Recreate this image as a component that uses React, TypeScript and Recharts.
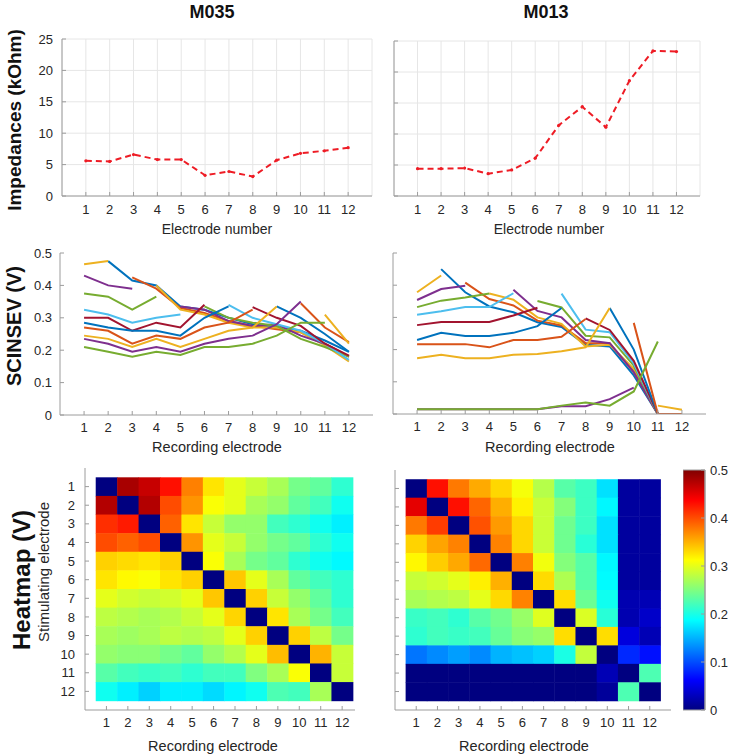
import React from 'react';
import {
  LineChart,
  Line,
  ScatterChart,
  Scatter,
  XAxis,
  YAxis,
  CartesianGrid,
  ReferenceArea,
} from 'recharts';

// electrode indices and tick values
const ELECTRODES = [1, 2, 3, 4, 5, 6, 7, 8, 9, 10, 11, 12];
const IMP_TICKS = [0, 5, 10, 15, 20, 25];
const V_TICKS = [0, 0.1, 0.2, 0.3, 0.4, 0.5];

// impedances (kOhm) per electrode
const M035_IMPEDANCE = [5.6, 5.5, 6.6, 5.8, 5.8, 3.3, 3.9, 3.1, 5.7, 6.8, 7.2, 7.7];
const M013_IMPEDANCE = [4.4, 4.4, 4.5, 3.6, 4.2, 6.1, 11.4, 14.4, 11.1, 18.6, 23.4, 23.3];

// SCINSEV (V): one trace per stimulating electrode, one value per recording electrode
// null = the stimulating electrode itself
const M035_TRACES = [
  [null, 0.475, 0.415, 0.4, 0.335, 0.325, 0.3, 0.28, 0.27, 0.26, 0.23, 0.195],
  [0.48, null, 0.425, 0.39, 0.33, 0.315, 0.29, 0.275, 0.265, 0.255, 0.22, 0.18],
  [0.465, 0.475, null, 0.4, 0.325, 0.31, 0.285, 0.27, 0.27, 0.255, 0.215, 0.165],
  [0.43, 0.4, 0.39, null, 0.335, 0.325, 0.29, 0.275, 0.28, 0.245, 0.22, 0.18],
  [0.375, 0.365, 0.325, 0.365, null, 0.335, 0.3, 0.285, 0.275, 0.235, 0.21, 0.18],
  [0.325, 0.31, 0.285, 0.3, 0.31, null, 0.34, 0.3, 0.28, 0.26, 0.22, 0.17],
  [0.3, 0.3, 0.26, 0.285, 0.27, 0.34, null, 0.333, 0.3, 0.275, 0.22, 0.183],
  [0.285, 0.27, 0.26, 0.26, 0.245, 0.3, 0.335, null, 0.335, 0.3, 0.25, 0.195],
  [0.27, 0.26, 0.22, 0.245, 0.235, 0.27, 0.285, 0.325, null, 0.345, 0.27, 0.225],
  [0.245, 0.235, 0.21, 0.235, 0.21, 0.235, 0.26, 0.27, 0.335, null, 0.31, 0.22],
  [0.235, 0.22, 0.195, 0.21, 0.195, 0.22, 0.235, 0.245, 0.28, 0.35, null, 0.27],
  [0.21, 0.195, 0.18, 0.195, 0.185, 0.21, 0.21, 0.22, 0.245, 0.285, 0.285, null],
];

const M013_TRACES = [
  [null, 0.45, 0.378, 0.334, 0.316, 0.285, 0.27, 0.215, 0.21, 0.12, 0, 0],
  [0.43, null, 0.408, 0.357, 0.337, 0.29, 0.275, 0.22, 0.22, 0.13, 0, 0],
  [0.378, 0.43, null, 0.374, 0.355, 0.3, 0.28, 0.21, 0.215, 0.14, 0, 0],
  [0.354, 0.388, 0.398, null, 0.386, 0.32, 0.3, 0.23, 0.22, 0.13, 0, 0],
  [0.332, 0.352, 0.362, 0.374, null, 0.351, 0.331, 0.243, 0.238, 0.15, 0, 0],
  [0.308, 0.319, 0.332, 0.332, 0.375, null, 0.374, 0.262, 0.254, 0.157, 0, 0],
  [0.276, 0.286, 0.286, 0.286, 0.306, 0.33, null, 0.297, 0.261, 0.165, 0, 0],
  [0.23, 0.252, 0.242, 0.242, 0.252, 0.273, 0.329, null, 0.329, 0.2, 0, 0],
  [0.217, 0.217, 0.217, 0.207, 0.23, 0.23, 0.24, 0.295, null, 0.283, 0, 0],
  [0.173, 0.184, 0.173, 0.173, 0.184, 0.186, 0.195, 0.207, 0.329, null, 0.026, 0.013],
  [0.015, 0.015, 0.015, 0.015, 0.015, 0.015, 0.024, 0.024, 0.046, 0.082, null, 0.225],
  [0.015, 0.015, 0.015, 0.015, 0.015, 0.015, 0.026, 0.036, 0.026, 0.07, 0.225, null],
];

// matlab default line colours
const LINE_COLORS = ['#0072BD', '#D95319', '#EDB120', '#7E2F8E', '#77AC30', '#4DBEEE', '#A2142F'];

const FONT = "'Liberation Sans', Arial, Helvetica, sans-serif";
const AXIS = '#9c9c9c';
const TICK_TEXT = { fontSize: 13, fill: '#262626' };
const PAD = { l: 60, r: 12, t: 10, b: 40 };
const MARGIN = { top: PAD.t, right: PAD.r, bottom: 0, left: 0 };

type Rect = { x: number; y: number; w: number; h: number };

// plot areas (pixels)
const IMP_L: Rect = { x: 62, y: 39, w: 310, h: 157 };
const IMP_R: Rect = { x: 394, y: 41, w: 306, h: 155 };
const SC_L: Rect = { x: 60, y: 253, w: 313, h: 162 };
const SC_R: Rect = { x: 393, y: 253, w: 313, h: 161 };
const HM_L: Rect = { x: 85, y: 468, w: 270, h: 242 };
const HM_R: Rect = { x: 395, y: 470, w: 276, h: 240 };
const CBAR: Rect = { x: 683, y: 470, w: 22, h: 240 };

const blank = () => '';
const fmtNum = (v: number) => String(v);

function jet(v: number | null) {
  const t = Math.max(0, Math.min(1, (v ?? 0) / 0.5));
  const c = (x: number) => Math.round(255 * Math.max(0, Math.min(1, x)));
  const r = c(1.5 - Math.abs(4 * t - 3));
  const g = c(1.5 - Math.abs(4 * t - 2));
  const b = c(1.5 - Math.abs(4 * t - 1));
  return `rgb(${r},${g},${b})`;
}

function frameStyle(r: Rect): React.CSSProperties {
  return { position: 'absolute', left: r.x - PAD.l, top: r.y - PAD.t };
}

interface BoxOpts {
  xKey: string;
  yKey?: string;
  xDomain: [number, number];
  yDomain: [number, number];
  xTicks: number[];
  yTicks: number[];
  showY: boolean;
  yReversed?: boolean;
  xMargin: number;
  yMargin: number;
}

// matlab style box: inward ticks on all four sides
function boxAxes(o: BoxOpts) {
  const line = { stroke: AXIS };
  return [
    <XAxis key="xb" xAxisId={0} dataKey={o.xKey} type="number" domain={o.xDomain} ticks={o.xTicks}
      interval={0} allowDataOverflow height={PAD.b} tickSize={-4} tickMargin={o.xMargin}
      axisLine={line} tickLine={line} tick={TICK_TEXT} tickFormatter={fmtNum} />,
    <XAxis key="xt" xAxisId="top" orientation="top" dataKey={o.xKey} type="number" domain={o.xDomain}
      ticks={o.xTicks} interval={0} allowDataOverflow height={0} tickSize={-4}
      axisLine={line} tickLine={line} tick={TICK_TEXT} tickFormatter={blank} />,
    <YAxis key="yl" yAxisId={0} dataKey={o.yKey} type="number" domain={o.yDomain} ticks={o.yTicks}
      reversed={o.yReversed} interval={0} allowDataOverflow width={PAD.l} tickSize={-4} tickMargin={o.yMargin}
      axisLine={line} tickLine={line} tick={TICK_TEXT} tickFormatter={o.showY ? fmtNum : blank} />,
    <YAxis key="yr" yAxisId="right" orientation="right" dataKey={o.yKey} type="number" domain={o.yDomain}
      ticks={o.yTicks} reversed={o.yReversed} interval={0} allowDataOverflow width={0} tickSize={-4}
      axisLine={line} tickLine={line} tick={TICK_TEXT} tickFormatter={blank} />,
  ];
}

function ImpedancePanel({ rect, values, showY }: { rect: Rect; values: number[]; showY: boolean }) {
  const data = ELECTRODES.map((e, i) => ({ electrode: e, z: values[i] }));
  return (
    <div style={frameStyle(rect)}>
      <LineChart width={rect.w + PAD.l + PAD.r} height={rect.h + PAD.t + PAD.b} data={data} margin={MARGIN}>
        <CartesianGrid stroke="#e6e6e6" />
        {boxAxes({ xKey: 'electrode', xDomain: [0, 13], yDomain: [0, 25], xTicks: ELECTRODES, yTicks: IMP_TICKS, showY, xMargin: 13, yMargin: 13 })}
        <Line type="linear" dataKey="z" stroke="#ee1c25" strokeWidth={2} strokeDasharray="6 4"
          dot={{ r: 1.6, fill: '#ee1c25', stroke: '#ee1c25', strokeWidth: 0 }} isAnimationActive={false} />
      </LineChart>
    </div>
  );
}

function TracePanel({ rect, traces, showY }: { rect: Rect; traces: (number | null)[][]; showY: boolean }) {
  const data = ELECTRODES.map((e, i) => {
    const row: Record<string, number | null> = { rec: e };
    traces.forEach((t, k) => { row[`s${k + 1}`] = t[i]; });
    return row;
  });
  return (
    <div style={frameStyle(rect)}>
      <LineChart width={rect.w + PAD.l + PAD.r} height={rect.h + PAD.t + PAD.b} data={data} margin={MARGIN}>
        {boxAxes({ xKey: 'rec', xDomain: [0, 13], yDomain: [0, 0.5], xTicks: ELECTRODES, yTicks: V_TICKS, showY, xMargin: 12, yMargin: 12 })}
        {traces.map((_, k) => (
          <Line key={k} type="linear" dataKey={`s${k + 1}`} stroke={LINE_COLORS[k % LINE_COLORS.length]}
            strokeWidth={2} dot={false} isAnimationActive={false} />
        ))}
      </LineChart>
    </div>
  );
}

function HeatmapPanel({ rect, traces, xMax, showY }: { rect: Rect; traces: (number | null)[][]; xMax: number; showY: boolean }) {
  // row = recording electrode, column = stimulating trace
  const cells: { col: number; row: number; v: number | null }[] = [];
  ELECTRODES.forEach((row, i) => {
    ELECTRODES.forEach((col, j) => cells.push({ col, row, v: traces[j][i] }));
  });
  const cw = rect.w / xMax;
  const ch = rect.h / 13;
  const cellShape = (p: any) => (
    <rect x={p.cx - cw / 2} y={p.cy - ch / 2} width={cw + 0.5} height={ch + 0.5} fill={jet(p.payload.v)} />
  );
  return (
    <div style={frameStyle(rect)}>
      <ScatterChart width={rect.w + PAD.l + PAD.r} height={rect.h + PAD.t + PAD.b} margin={MARGIN}>
        {boxAxes({ xKey: 'col', yKey: 'row', xDomain: [0, xMax], yDomain: [0, 13], xTicks: ELECTRODES, yTicks: ELECTRODES, showY, yReversed: true, xMargin: 12, yMargin: 14 })}
        <Scatter data={cells} shape={cellShape} isAnimationActive={false} />
      </ScatterChart>
    </div>
  );
}

function Colorbar() {
  const line = { stroke: AXIS };
  return (
    <div style={{ position: 'absolute', left: CBAR.x, top: CBAR.y - 10 }}>
      <ScatterChart width={CBAR.w + 47} height={CBAR.h + 20} margin={{ top: 10, right: 0, bottom: 10, left: 0 }}>
        <defs>
          <linearGradient id="jetScale" x1="0" y1="1" x2="0" y2="0">
            <stop offset="0" stopColor="#000080" />
            <stop offset="0.125" stopColor="#0000ff" />
            <stop offset="0.375" stopColor="#00ffff" />
            <stop offset="0.625" stopColor="#ffff00" />
            <stop offset="0.875" stopColor="#ff0000" />
            <stop offset="1" stopColor="#800000" />
          </linearGradient>
        </defs>
        <XAxis type="number" dataKey="x" domain={[0, 1]} allowDataOverflow hide />
        <YAxis yAxisId={0} orientation="right" type="number" domain={[0, 0.5]} ticks={V_TICKS} interval={0}
          allowDataOverflow width={47} tickSize={-4} tickMargin={9} axisLine={line} tickLine={line}
          tick={TICK_TEXT} tickFormatter={fmtNum} />
        <YAxis yAxisId="l" orientation="left" type="number" domain={[0, 0.5]} ticks={V_TICKS} interval={0}
          allowDataOverflow width={0} tickSize={-4} axisLine={line} tickLine={line} tickFormatter={blank} />
        <ReferenceArea x1={0} x2={1} y1={0} y2={0.5} fill="url(#jetScale)" fillOpacity={1} stroke={AXIS} />
        <Scatter data={[]} isAnimationActive={false} />
      </ScatterChart>
    </div>
  );
}

function Label({ x, y, text, size, bold, rotate }: { x: number; y: number; text: string; size: number; bold?: boolean; rotate?: boolean }) {
  return (
    <div
      style={{
        position: 'absolute', left: x, top: y, whiteSpace: 'nowrap', lineHeight: 1,
        fontSize: size, fontWeight: bold ? 700 : 400, color: bold ? '#111' : '#262626',
        transform: `translate(-50%, -50%)${rotate ? ' rotate(-90deg)' : ''}`,
      }}
    >
      {text}
    </div>
  );
}

export default function App() {
  return (
    <div style={{ position: 'absolute', left: 0, top: 0, width: 730, height: 756, background: '#fff', fontFamily: FONT, overflow: 'hidden' }}>
      <ImpedancePanel rect={IMP_L} values={M035_IMPEDANCE} showY />
      <ImpedancePanel rect={IMP_R} values={M013_IMPEDANCE} showY={false} />
      <TracePanel rect={SC_L} traces={M035_TRACES} showY />
      <TracePanel rect={SC_R} traces={M013_TRACES} showY={false} />
      <HeatmapPanel rect={HM_L} traces={M035_TRACES} xMax={12.6} showY />
      <HeatmapPanel rect={HM_R} traces={M013_TRACES} xMax={13} showY={false} />
      <Colorbar />

      <Label x={212} y={12} text="M035" size={18} bold />
      <Label x={546} y={12} text="M013" size={18} bold />
      <Label x={14} y={120} text="Impedances (kOhm)" size={19} bold rotate />
      <Label x={14} y={326} text="SCINSEV (V)" size={20} bold rotate />
      <Label x={22} y={580} text="Heatmap (V)" size={24} bold rotate />
      <Label x={217} y={229} text="Electrode number" size={14} />
      <Label x={549} y={229} text="Electrode number" size={14} />
      <Label x={217} y={447} text="Recording electrode" size={14.5} />
      <Label x={550} y={447} text="Recording electrode" size={14.5} />
      <Label x={43} y={572} text="Stimulating electrode" size={15} rotate />
      <Label x={213} y={746} text="Recording electrode" size={14.5} />
      <Label x={524} y={746} text="Recording electrode" size={14.5} />
    </div>
  );
}
